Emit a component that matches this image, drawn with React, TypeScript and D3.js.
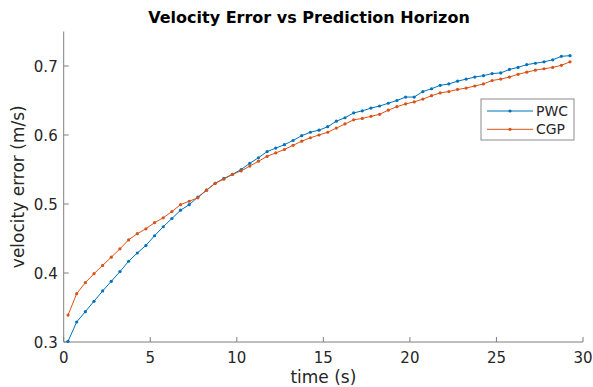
import React from "react";
import * as d3 from "d3";

const times: number[] = Array.from({ length: 59 }, (_, i) => 0.25 + i * 0.5);

const pwc: number[] = [
  0.301, 0.329, 0.344, 0.359, 0.374, 0.388, 0.402, 0.417, 0.429, 0.44, 0.454, 0.467, 0.479, 0.491,
  0.499, 0.51, 0.52, 0.53, 0.537, 0.543, 0.55, 0.559, 0.567, 0.576, 0.581, 0.586, 0.592,
  0.599, 0.604, 0.607, 0.612, 0.62, 0.625, 0.632, 0.635, 0.639, 0.642, 0.646, 0.65, 0.655, 0.655, 0.663,
  0.667, 0.672, 0.674, 0.678, 0.681, 0.684, 0.686, 0.689, 0.69, 0.695, 0.698, 0.702, 0.704, 0.706, 0.709, 0.714, 0.715,
];

const cgp: number[] = [
  0.339, 0.37, 0.386, 0.399, 0.411, 0.423, 0.435, 0.448, 0.457, 0.464, 0.473, 0.48, 0.489, 0.499,
  0.504, 0.509, 0.52, 0.53, 0.536, 0.543, 0.548, 0.555, 0.562, 0.569, 0.574, 0.579, 0.585,
  0.591, 0.596, 0.6, 0.604, 0.61, 0.616, 0.622, 0.624, 0.627, 0.63, 0.636, 0.641, 0.645, 0.648, 0.652,
  0.657, 0.661, 0.663, 0.666, 0.668, 0.671, 0.674, 0.679, 0.681, 0.684, 0.688, 0.691, 0.694, 0.696, 0.698, 0.701, 0.706,
];

const xTicks: number[] = [0, 5, 10, 15, 20, 25, 30];
const yTicks: number[] = [0.3, 0.4, 0.5, 0.6, 0.7];
const seriesNames: string[] = ["PWC", "CGP"];
const seriesColors: string[] = ["#0072BD", "#D95319"];

const W = 593;
const H = 387;
const M = { left: 63.7, right: 583, top: 31.5, bottom: 342 };
const FONT = "'DejaVu Sans', sans-serif";

export default function App() {
  const x = d3.scaleLinear().domain([0, 30]).range([M.left, M.right]);
  const y = d3.scaleLinear().domain([0.3, 0.75]).range([M.bottom, M.top]);
  const line = d3
    .line<number>()
    .x((_, i) => x(times[i]))
    .y((d) => y(d));
  const series = [pwc, cgp];
  const axisColor = "#7f7f7f";
  const textColor = "#262626";
  const lg = { x: 481, y: 99, w: 93, h: 41 };

  return (
    <svg
      width={W}
      height={H}
      style={{ position: "absolute", left: 0, top: 0, background: "#fff" }}
      fontFamily={FONT}
    >
      <rect width={W} height={H} fill="#fff" />
      <text x={309} y={23} textAnchor="middle" fontWeight="bold" fontSize={16} fill="#000">
        Velocity Error vs Prediction Horizon
      </text>
      {/* axes */}
      <line x1={M.left} x2={M.left} y1={M.top} y2={M.bottom} stroke={axisColor} strokeWidth={1} />
      <line x1={M.left} x2={M.right} y1={M.bottom} y2={M.bottom} stroke={axisColor} strokeWidth={1} />
      {xTicks.map((t) => (
        <g key={"x" + t}>
          <line x1={x(t)} x2={x(t)} y1={M.bottom} y2={M.bottom - 5} stroke={axisColor} />
          <text x={x(t)} y={M.bottom + 21} textAnchor="middle" fontSize={15} fill={textColor}>
            {t}
          </text>
        </g>
      ))}
      {yTicks.map((t) => (
        <g key={"y" + t}>
          <line x1={M.left} x2={M.left + 5} y1={y(t)} y2={y(t)} stroke={axisColor} />
          <text x={M.left - 6} y={y(t) + 5.5} textAnchor="end" fontSize={15} fill={textColor}>
            {t.toFixed(1)}
          </text>
        </g>
      ))}
      <text x={(M.left + M.right) / 2} y={383} textAnchor="middle" fontSize={17} fill={textColor}>
        time (s)
      </text>
      <text
        transform={`translate(24,${(M.top + M.bottom) / 2}) rotate(-90)`}
        textAnchor="middle"
        fontSize={17}
        fill={textColor}
      >
        velocity error (m/s)
      </text>
      {/* series */}
      {series.map((s, k) => (
        <g key={seriesNames[k]}>
          <path d={line(s) || ""} fill="none" stroke={seriesColors[k]} strokeWidth={1} />
          {s.map((v, i) => (
            <circle key={i} cx={x(times[i])} cy={y(v)} r={1.6} fill={seriesColors[k]} />
          ))}
        </g>
      ))}
      {/* legend */}
      <rect x={lg.x} y={lg.y} width={lg.w} height={lg.h} fill="#fff" stroke="#8c8c8c" strokeWidth={1} />
      {seriesNames.map((n, k) => {
        const yy = lg.y + 12 + k * 18.3;
        return (
          <g key={n}>
            <line x1={lg.x + 6} x2={lg.x + 52} y1={yy} y2={yy} stroke={seriesColors[k]} strokeWidth={1} />
            <circle cx={lg.x + 29} cy={yy} r={1.6} fill={seriesColors[k]} />
            <text x={lg.x + 55} y={yy + 5} fontSize={14} fill={textColor}>
              {n}
            </text>
          </g>
        );
      })}
    </svg>
  );
}
